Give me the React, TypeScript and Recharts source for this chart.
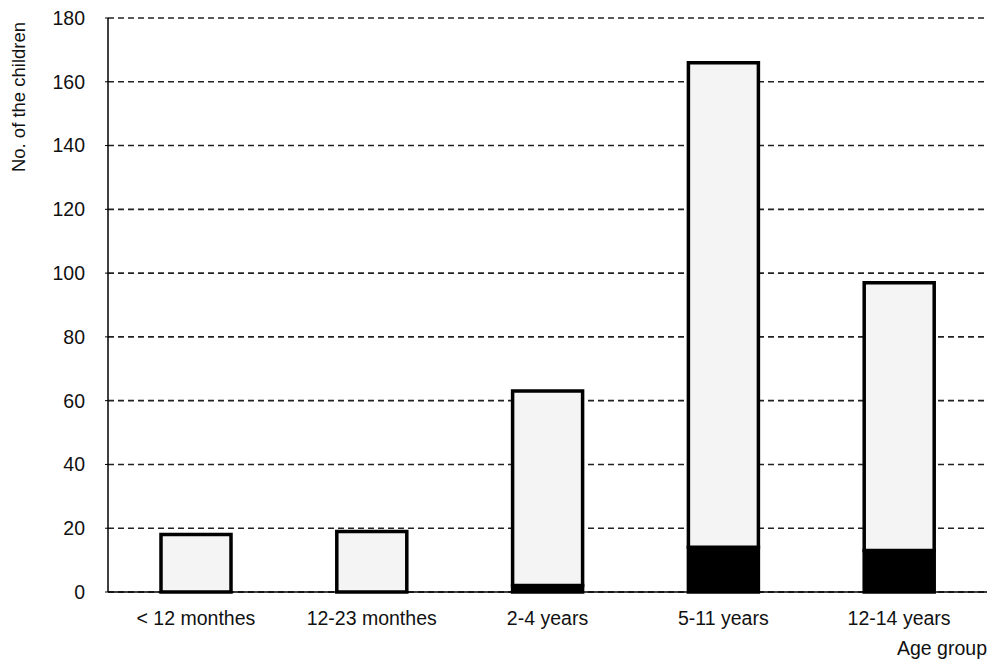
import React from 'react';
import { BarChart, Bar, XAxis, YAxis, CartesianGrid } from 'recharts';

const categories = ['< 12 monthes', '12-23 monthes', '2-4 years', '5-11 years', '12-14 years'];
const darkValues = [0, 0, 2, 14, 13];
const totalValues = [18, 19, 63, 166, 97];
const yTicks = [0, 20, 40, 60, 80, 100, 120, 140, 160, 180];

const data = categories.map((c, i) => ({
  name: c,
  dark: darkValues[i],
  light: totalValues[i] - darkValues[i],
}));

const FONT = '"Liberation Sans", Arial, sans-serif';
const FS = 19.5;

export default function App() {
  return (
    <div style={{ position: 'absolute', left: 0, top: 0, width: 994, height: 665, background: '#fff', fontFamily: FONT }}>
      <BarChart
        width={994}
        height={665}
        data={data}
        margin={{ top: 18, right: 7, bottom: 0, left: 0 }}
        barSize={70}
      >
        <CartesianGrid
          vertical={false}
          stroke="#222"
          strokeWidth={1.6}
          strokeDasharray="6 4"
        />
        <XAxis
          dataKey="name"
          height={73}
          tickLine={false}
          tickSize={0}
          tickMargin={19}
          axisLine={{ stroke: '#000', strokeWidth: 1.5 }}
          tick={{ fill: '#111', fontSize: FS, fontFamily: FONT }}
          interval={0}
        />
        <YAxis
          width={108}
          domain={[0, 180]}
          ticks={yTicks}
          interval={0}
          tickSize={3}
          tickMargin={20}
          tickLine={{ stroke: '#000' }}
          axisLine={{ stroke: '#000', strokeWidth: 1.5 }}
          tick={{ fill: '#111', fontSize: FS, fontFamily: FONT }}
        />
        <Bar dataKey="dark" stackId="a" fill="#000" stroke="#000" strokeWidth={3.5} isAnimationActive={false} />
        <Bar dataKey="light" stackId="a" fill="#f4f4f4" stroke="#000" strokeWidth={3.5} isAnimationActive={false} />
      </BarChart>
      <div
        style={{
          position: 'absolute',
          left: 19,
          top: 97,
          transform: 'translate(-50%, -50%) rotate(-90deg)',
          whiteSpace: 'nowrap',
          fontSize: 18.5,
          color: '#111',
          fontFamily: FONT,
        }}
      >
        No. of the children
      </div>
      <div
        style={{
          position: 'absolute',
          right: 7,
          top: 637,
          whiteSpace: 'nowrap',
          fontSize: FS,
          color: '#111',
          fontFamily: FONT,
          lineHeight: '22px',
        }}
      >
        Age group
      </div>
    </div>
  );
}
